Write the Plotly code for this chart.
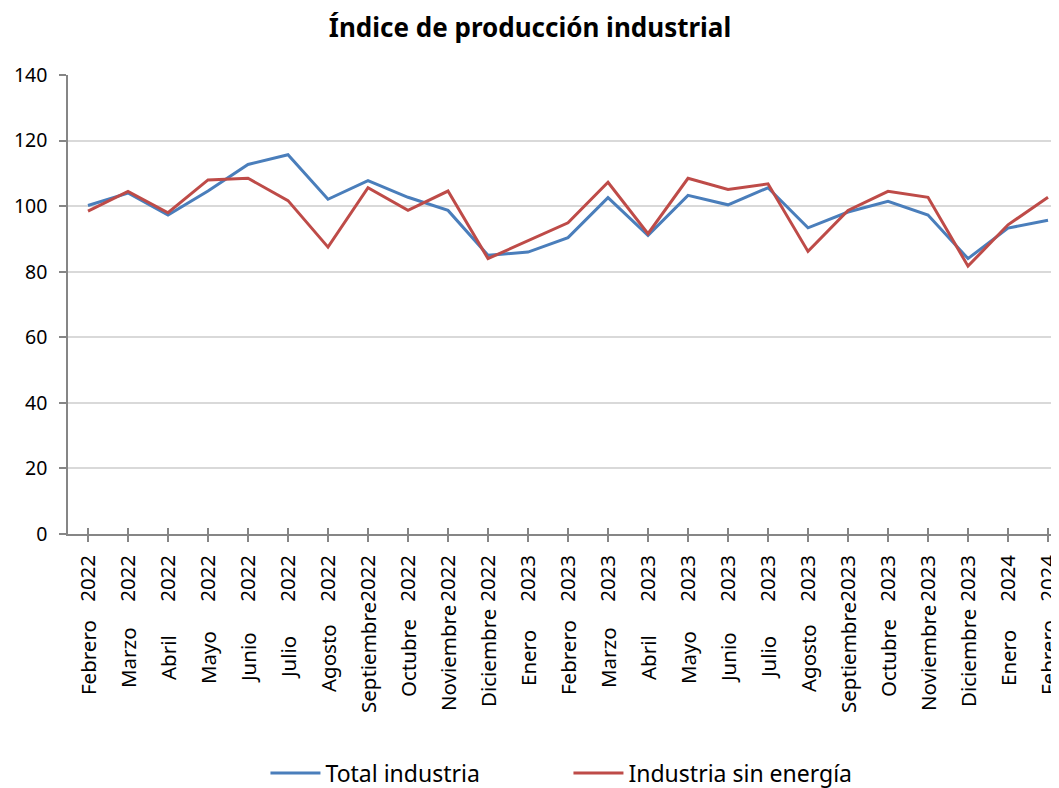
import plotly.graph_objects as go

months = ["Febrero", "Marzo", "Abril", "Mayo", "Junio", "Julio", "Agosto", "Septiembre",
          "Octubre", "Noviembre", "Diciembre", "Enero", "Febrero", "Marzo", "Abril", "Mayo",
          "Junio", "Julio", "Agosto", "Septiembre", "Octubre", "Noviembre", "Diciembre",
          "Enero", "Febrero"]
years = ["2022"] * 11 + ["2023"] * 12 + ["2024"] * 2

total_industria = [100.2, 104.0, 97.3, 104.6, 112.7, 115.7, 102.1, 107.8, 102.7, 98.7,
                   85.0, 86.0, 90.4, 102.6, 91.1, 103.3, 100.4, 105.6, 93.4, 98.2,
                   101.5, 97.3, 84.0, 93.3, 95.7]
industria_sin_energia = [98.5, 104.5, 98.0, 108.0, 108.5, 101.7, 87.5, 105.6, 98.7, 104.6,
                         84.0, 89.5, 94.9, 107.3, 91.6, 108.5, 105.1, 106.8, 86.2, 98.7,
                         104.5, 102.7, 81.7, 94.3, 102.7]

x = list(range(len(months)))
FONT = "Noto Sans"

fig = go.Figure()
fig.add_trace(go.Scatter(x=x, y=total_industria, mode="lines", name="Total industria",
                         line=dict(color="#4a7ebb", width=3)))
fig.add_trace(go.Scatter(x=x, y=industria_sin_energia, mode="lines", name="Industria sin energía",
                         line=dict(color="#be4b48", width=3)))

for i, m in zip(x, months):
    fig.add_annotation(x=i, xref="x", y=-0.2702, yref="paper", text=m, textangle=-90,
                       showarrow=False, xanchor="center", yanchor="middle",
                       font=dict(family=FONT, size=20.5, color="#000000"))

# page body has an 8px margin, so the figure is drawn smaller and offset
fig.update_layout(
    width=1051, height=780,
    margin=dict(l=60, r=0, t=67, b=254, autoexpand=False),
    paper_bgcolor="white", plot_bgcolor="white",
    font=dict(family=FONT, size=20, color="#000000"),
    title=dict(text="<b>Índice de producción industrial</b>", x=0.4967, xref="container",
               xanchor="center", y=0.9744, yanchor="middle",
               font=dict(size=26, family=FONT, color="#000000")),
    showlegend=True,
    legend=dict(orientation="h", x=0.505, xanchor="center", y=-0.5207, yanchor="middle",
                font=dict(size=23, family=FONT), entrywidth=238, itemwidth=50, tracegroupgap=0),
)
fig.update_xaxes(
    tickmode="array", tickvals=x, ticktext=years, tickangle=-90,
    range=[-0.5, 24.275], showgrid=False, zeroline=False, automargin=False,
    showline=True, linecolor="#868686", linewidth=1.5,
    ticks="outside", ticklen=6, tickcolor="#868686", tickwidth=1.5,
    minor=dict(tickmode="array", tickvals=x, ticks="inside", ticklen=6,
               tickcolor="#868686", tickwidth=1.5, showgrid=False),
    tickfont=dict(size=20.5, family=FONT), ticklabelstandoff=5,
    ticklabeloverflow="allow",
)
fig.update_yaxes(
    range=[0, 140], tickvals=[0, 20, 40, 60, 80, 100, 120, 140],
    showgrid=True, gridcolor="#d9d9d9", gridwidth=1.5, zeroline=False, automargin=False,
    showline=True, linecolor="#868686", linewidth=1.5,
    ticks="outside", ticklen=7, tickcolor="#868686", tickwidth=1.5,
    tickfont=dict(size=19.5, family=FONT), ticklabelstandoff=8,
)

fig.write_html("out.html")
